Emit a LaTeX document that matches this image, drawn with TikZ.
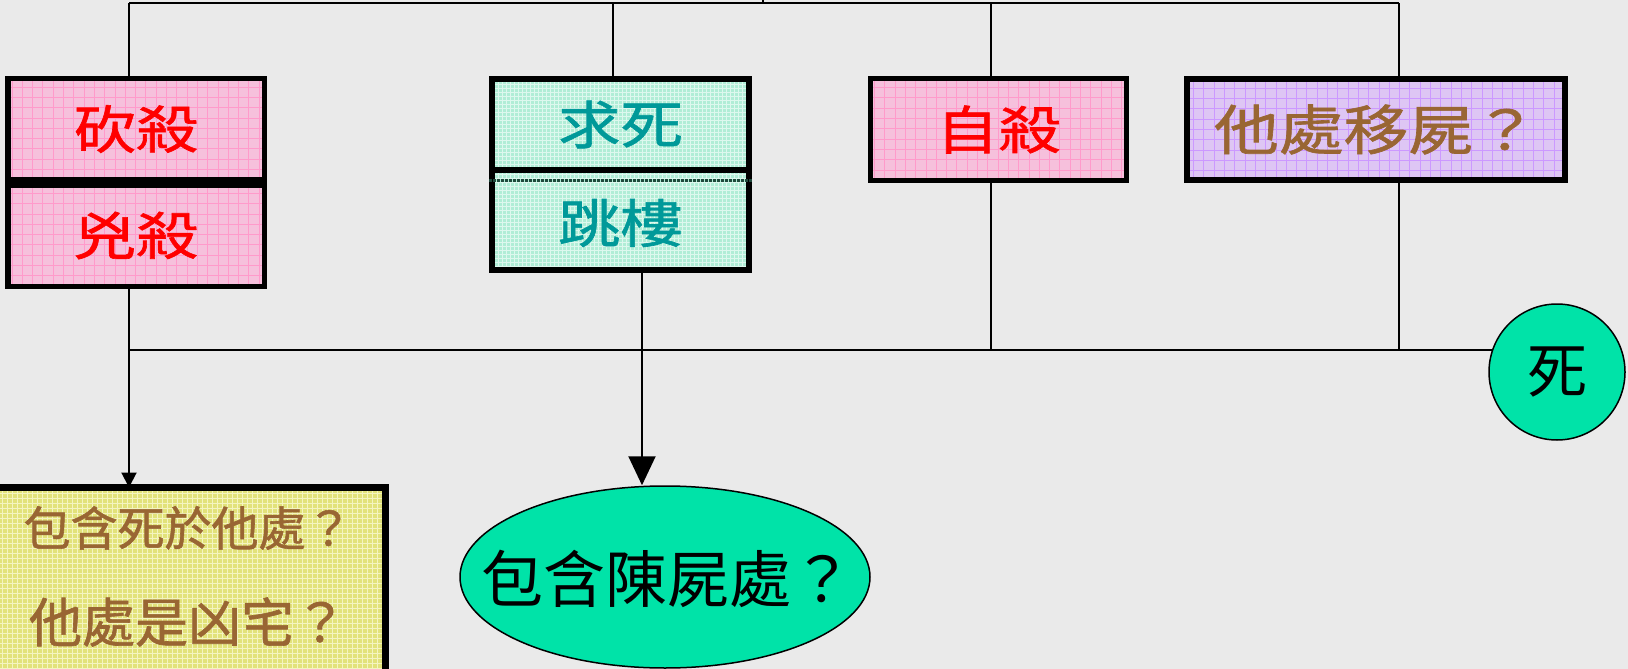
\documentclass[tikz,border=0pt]{standalone}
\usepackage{fontspec}
\newfontfamily\cjk{Noto Sans CJK TC}
\newfontfamily\cjkb[FakeBold=1.2]{Noto Sans CJK TC}
\newfontfamily\cjkw[FakeStretch=1.2,FakeBold=1.2]{Noto Sans CJK TC}
\usetikzlibrary{shapes.geometric,arrows.meta}
\definecolor{bg}{HTML}{EAEAEA}
\definecolor{pinkfill}{HTML}{F6C0DC}
\definecolor{pinkgrid}{HTML}{FF9ACB}
\definecolor{mintfill}{HTML}{B0EDD6}
\definecolor{mintgrid}{HTML}{DDF8EE}
\definecolor{purpfill}{HTML}{DEC6F4}
\definecolor{purpgrid}{HTML}{CC99FF}
\definecolor{yelfill}{HTML}{E2E27A}
\definecolor{yelgrid}{HTML}{F4F4C0}
\definecolor{txred}{HTML}{FF0000}
\definecolor{txteal}{HTML}{009999}
\definecolor{txbrown}{HTML}{996633}
\definecolor{sea}{HTML}{00E3A8}
\definecolor{darkteal}{HTML}{1F4A3C}
\tikzset{
  gridded/.style 2 args={path picture={\draw[#1, line width=0.6pt, step=#2] (path picture bounding box.south west) grid (path picture bounding box.north east);}},
  box/.style={rectangle, draw=black, inner sep=0pt, outer sep=0pt},
  pinkbox/.style={box, fill=pinkfill, gridded={pinkgrid}{10.3pt}},
  mintbox/.style={box, fill=mintfill, gridded={mintgrid}{4pt}},
  purpbox/.style={box, fill=purpfill, gridded={purpgrid}{10.3pt}},
  yelbox/.style={box, fill=yelfill, gridded={yelgrid}{5pt}},
  bigtxt/.style={font=\cjkw\fontsize{52}{60}\selectfont},
  conn/.style={draw=black, line width=2pt},
  seashape/.style={draw=black, line width=1.5pt, fill=sea, inner sep=0pt},
}
\begin{document}
\begin{tikzpicture}[x=1pt,y=-1pt]
\clip (0,0) rectangle (1628,669);
\fill[bg] (0,0) rectangle (1628,669);
% coordinates of the bus lines
\coordinate (t1) at (129,3);
\coordinate (t2) at (613,3);
\coordinate (t3) at (991,3);
\coordinate (t4) at (1399,3);
\coordinate (tk) at (763,0);
\coordinate (m1) at (129,350);
\coordinate (m2) at (642,350);
\coordinate (m3) at (991,350);
\coordinate (m4) at (1399,350);
% boxes
\node[pinkbox, line width=5.5pt, minimum width=256.5pt, minimum height=100.5pt, bigtxt, text=txred] (b1) at (136,129) {砍殺};
\node[pinkbox, line width=5.5pt, minimum width=256.5pt, minimum height=101.5pt, bigtxt, text=txred] (b2) at (136,235.5) {兇殺};
\node[mintbox, draw=none, minimum width=263pt, minimum height=100pt, bigtxt, text=txteal] (q2) at (620.5,223) {跳樓};
\draw[line width=6pt] ([xshift=3pt]q2.north west) -- ([xshift=3pt,yshift=3pt]q2.south west) -- ([xshift=-3pt,yshift=3pt]q2.south east) -- ([xshift=-3pt]q2.north east);
\draw[darkteal, line width=3pt, densely dotted] ([yshift=-7pt]q2.north west) -- ([yshift=-7pt]q2.north east);
\node[mintbox, line width=6pt, minimum width=257pt, minimum height=91pt, bigtxt, text=txteal] (q1) at (620.5,124.5) {求死};
\node[pinkbox, line width=5pt, minimum width=256pt, minimum height=102pt, bigtxt, text=txred] (z) at (998.5,129.5) {自殺};
\node[purpbox, line width=6pt, minimum width=378pt, minimum height=101pt, font=\cjkw\fontsize{54}{60}\selectfont, text=txbrown] (y) at (1376,129.5) {他處移屍？};
\node[yelbox, line width=7pt, minimum width=405.5pt, minimum height=212.5pt] (yb) at (182.75,593.75) {};
\node[text=txbrown, font=\cjkb\fontsize{47}{54}\selectfont, inner sep=0pt] (yt1) at (188,528) {包含死於他處？};
\node[text=txbrown, font=\cjkb\fontsize{53}{60}\selectfont, inner sep=0pt] (yt2) at (188,622) {他處是凶宅？};
\node[seashape, ellipse, minimum width=410pt, minimum height=182pt] (el) at (665,577) {};
\node[font=\cjk\fontsize{62}{70}\selectfont, inner sep=0pt] (elt) at (667,579) {包含陳屍處？};
\node[seashape, circle, minimum size=136pt, font=\cjk\fontsize{60}{66}\selectfont] (si) at (1557,372) {死};
% connectors
\draw[conn] (t1) -- (t4);
\draw[conn] (tk) -- (tk |- t1);
\draw[conn] (t1) -- (t1 |- b1.north);
\draw[conn] (t2) -- (t2 |- q1.north);
\draw[conn] (t3) -- (t3 |- z.north);
\draw[conn] (t4) -- (t4 |- y.north);
\draw[conn] (m1 |- b2.south) -- (m1);
\draw[conn] (m2 |- q2.south) -- (m2);
\draw[conn] (m3 |- z.south) -- (m3);
\draw[conn] (m4 |- y.south) -- (m4);
\draw[conn] (m1) -- (m1 -| si.161);
\draw[conn, -{Triangle[length=15pt,width=15pt]}] (m1) -- (m1 |- yb.north);
\draw[conn, -{Triangle[length=29pt,width=27pt]}] (m2) -- (m2 |- el.north);
\end{tikzpicture}
\end{document}
